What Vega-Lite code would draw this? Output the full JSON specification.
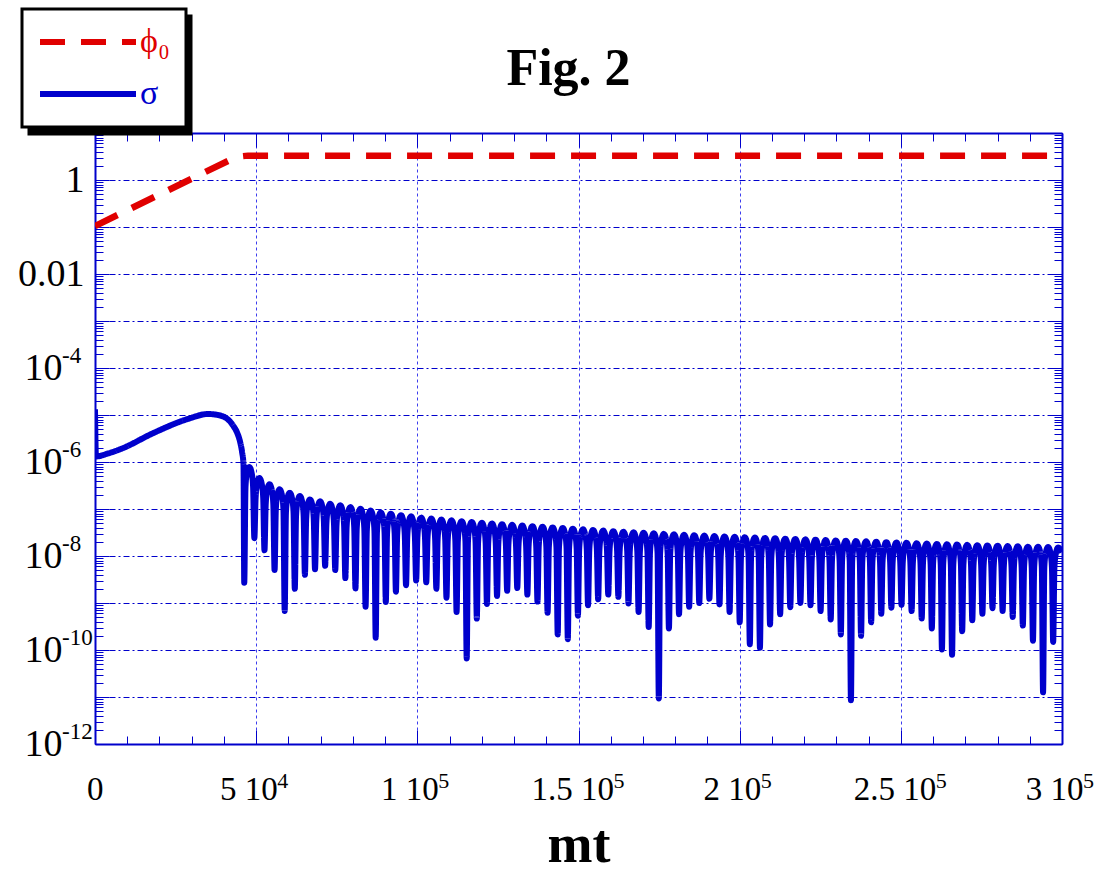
{
  "$schema": "https://vega.github.io/schema/vega-lite/v6.json",
  "autosize": {"type": "none"},
  "padding": {"left": 95, "top": 133, "right": 41, "bottom": 129},
  "width": 967,
  "height": 611,
  "background": "white",
  "config": {"view": {"stroke": null}, "font": "Liberation Serif"},
  "title": {"text": "Fig. 2", "font": "Liberation Serif", "fontSize": 52, "fontWeight": "bold", "color": "black", "anchor": "middle", "dx": -10, "offset": -129, "baseline": "alphabetic"},
  "datasets": {
    "phi": [
      {"t": 0, "v": 0.105}, {"t": 42503, "v": 2.8}, {"t": 44985, "v": 3.17}, {"t": 47467, "v": 3.3}, {"t": 300000, "v": 3.3}
    ],
    "sigma": [
      {"t":0,"v":1.32e-5},{"t":310,"v":1.31e-6},{"t":4033,"v":1.52e-6},{"t":8066,"v":1.90e-6},{"t":18521,"v":4.26e-6},{"t":28852,"v":8.26e-6},{"t":35057,"v":1.05e-5},{"t":38160,"v":1.0e-5},{"t":41262,"v":8.05e-6},{"t":42813,"v":6.0e-6},{"t":44054,"v":4.26e-6},{"t":44985,"v":2.74e-6},{"t":45605,"v":1.67e-6},{"t":46071,"v":8.85e-7},
      {"t":46300,"v":2.69e-9},{"t":46692,"v":2.98e-7},{"t":47084,"v":5.56e-7},{"t":47868,"v":7.83e-7},{"t":48653,"v":5.56e-7},{"t":49045,"v":2.98e-7},
      {"t":49437,"v":2.40e-8},{"t":49829,"v":1.73e-7},{"t":50221,"v":3.24e-7},{"t":51005,"v":4.56e-7},{"t":51790,"v":3.24e-7},{"t":52182,"v":1.73e-7},
      {"t":52574,"v":1.32e-8},{"t":52966,"v":1.27e-7},{"t":53358,"v":2.38e-7},{"t":54142,"v":3.35e-7},{"t":54927,"v":2.38e-7},{"t":55319,"v":1.27e-7},
      {"t":55711,"v":5.01e-9},{"t":56103,"v":9.96e-8},{"t":56495,"v":1.86e-7},{"t":57279,"v":2.62e-7},{"t":58064,"v":1.86e-7},{"t":58456,"v":9.96e-8},
      {"t":58848,"v":6.76e-10},{"t":59240,"v":8.44e-8},{"t":59632,"v":1.58e-7},{"t":60416,"v":2.22e-7},{"t":61201,"v":1.58e-7},{"t":61593,"v":8.44e-8},
      {"t":61985,"v":2.00e-9},{"t":62377,"v":7.18e-8},{"t":62769,"v":1.34e-7},{"t":63553,"v":1.89e-7},{"t":64338,"v":1.34e-7},{"t":64730,"v":7.18e-8},
      {"t":65122,"v":3.98e-9},{"t":65514,"v":6.08e-8},{"t":65906,"v":1.14e-7},{"t":66690,"v":1.60e-7},{"t":67475,"v":1.14e-7},{"t":67867,"v":6.08e-8},
      {"t":68259,"v":5.25e-9},{"t":68651,"v":5.55e-8},{"t":69043,"v":1.04e-7},{"t":69827,"v":1.46e-7},{"t":70612,"v":1.04e-7},{"t":71004,"v":5.55e-8},
      {"t":71396,"v":6.17e-9},{"t":71788,"v":4.90e-8},{"t":72180,"v":9.16e-8},{"t":72964,"v":1.29e-7},{"t":73749,"v":9.16e-8},{"t":74141,"v":4.90e-8},
      {"t":74533,"v":5.01e-9},{"t":74925,"v":4.56e-8},{"t":75317,"v":8.52e-8},{"t":76101,"v":1.20e-7},{"t":76886,"v":8.52e-8},{"t":77278,"v":4.56e-8},
      {"t":77670,"v":3.39e-9},{"t":78062,"v":4.18e-8},{"t":78454,"v":7.81e-8},{"t":79238,"v":1.10e-7},{"t":80023,"v":7.81e-8},{"t":80415,"v":4.18e-8},
      {"t":80807,"v":2.04e-9},{"t":81199,"v":3.84e-8},{"t":81591,"v":7.17e-8},{"t":82375,"v":1.01e-7},{"t":83160,"v":7.17e-8},{"t":83552,"v":3.84e-8},
      {"t":83944,"v":8.32e-10},{"t":84336,"v":3.52e-8},{"t":84728,"v":6.58e-8},{"t":85512,"v":9.27e-8},{"t":86297,"v":6.58e-8},{"t":86689,"v":3.52e-8},
      {"t":87081,"v":1.82e-10},{"t":87473,"v":3.22e-8},{"t":87865,"v":6.01e-8},{"t":88649,"v":8.47e-8},{"t":89434,"v":6.01e-8},{"t":89826,"v":3.22e-8},
      {"t":90218,"v":1.05e-9},{"t":90610,"v":3.01e-8},{"t":91002,"v":5.63e-8},{"t":91786,"v":7.93e-8},{"t":92571,"v":5.63e-8},{"t":92963,"v":3.01e-8},
      {"t":93355,"v":1.74e-9},{"t":93747,"v":2.81e-8},{"t":94139,"v":5.25e-8},{"t":94923,"v":7.40e-8},{"t":95708,"v":5.25e-8},{"t":96100,"v":2.81e-8},
      {"t":96492,"v":2.40e-9},{"t":96884,"v":2.65e-8},{"t":97276,"v":4.95e-8},{"t":98060,"v":6.97e-8},{"t":98845,"v":4.95e-8},{"t":99237,"v":2.65e-8},
      {"t":99629,"v":3.02e-9},{"t":100021,"v":2.49e-8},{"t":100413,"v":4.66e-8},{"t":101197,"v":6.56e-8},{"t":101982,"v":4.66e-8},{"t":102374,"v":2.49e-8},
      {"t":102766,"v":2.75e-9},{"t":103158,"v":2.38e-8},{"t":103550,"v":4.44e-8},{"t":104334,"v":6.25e-8},{"t":105119,"v":4.44e-8},{"t":105511,"v":2.38e-8},
      {"t":105903,"v":2.00e-9},{"t":106295,"v":2.26e-8},{"t":106687,"v":4.23e-8},{"t":107471,"v":5.96e-8},{"t":108256,"v":4.23e-8},{"t":108648,"v":2.26e-8},
      {"t":109040,"v":1.29e-9},{"t":109432,"v":2.18e-8},{"t":109824,"v":4.07e-8},{"t":110608,"v":5.73e-8},{"t":111393,"v":4.07e-8},{"t":111785,"v":2.18e-8},
      {"t":112177,"v":6.46e-10},{"t":112569,"v":2.09e-8},{"t":112961,"v":3.91e-8},{"t":113745,"v":5.51e-8},{"t":114530,"v":3.91e-8},{"t":114922,"v":2.09e-8},
      {"t":115314,"v":6.61e-11},{"t":115706,"v":2.01e-8},{"t":116098,"v":3.76e-8},{"t":116882,"v":5.30e-8},{"t":117667,"v":3.76e-8},{"t":118059,"v":2.01e-8},
      {"t":118451,"v":4.68e-10},{"t":118843,"v":1.93e-8},{"t":119235,"v":3.61e-8},{"t":120019,"v":5.09e-8},{"t":120804,"v":3.61e-8},{"t":121196,"v":1.93e-8},
      {"t":121588,"v":9.55e-10},{"t":121980,"v":1.87e-8},{"t":122372,"v":3.50e-8},{"t":123156,"v":4.93e-8},{"t":123941,"v":3.50e-8},{"t":124333,"v":1.87e-8},
      {"t":124725,"v":1.41e-9},{"t":125117,"v":1.80e-8},{"t":125509,"v":3.37e-8},{"t":126293,"v":4.74e-8},{"t":127078,"v":3.37e-8},{"t":127470,"v":1.80e-8},
      {"t":127862,"v":1.82e-9},{"t":128254,"v":1.75e-8},{"t":128646,"v":3.27e-8},{"t":129430,"v":4.60e-8},{"t":130215,"v":3.27e-8},{"t":130607,"v":1.75e-8},
      {"t":130999,"v":2.09e-9},{"t":131391,"v":1.69e-8},{"t":131783,"v":3.16e-8},{"t":132567,"v":4.45e-8},{"t":133352,"v":3.16e-8},{"t":133744,"v":1.69e-8},
      {"t":134136,"v":1.51e-9},{"t":134528,"v":1.64e-8},{"t":134920,"v":3.07e-8},{"t":135704,"v":4.32e-8},{"t":136489,"v":3.07e-8},{"t":136881,"v":1.64e-8},
      {"t":137273,"v":1.07e-9},{"t":137665,"v":1.60e-8},{"t":138057,"v":2.98e-8},{"t":138841,"v":4.20e-8},{"t":139626,"v":2.98e-8},{"t":140018,"v":1.60e-8},
      {"t":140410,"v":6.17e-10},{"t":140802,"v":1.54e-8},{"t":141194,"v":2.88e-8},{"t":141978,"v":4.06e-8},{"t":142763,"v":2.88e-8},{"t":143155,"v":1.54e-8},
      {"t":143547,"v":2.14e-10},{"t":143939,"v":1.50e-8},{"t":144331,"v":2.80e-8},{"t":145115,"v":3.94e-8},{"t":145900,"v":2.80e-8},{"t":146292,"v":1.50e-8},
      {"t":146684,"v":1.70e-10},{"t":147076,"v":1.45e-8},{"t":147468,"v":2.71e-8},{"t":148252,"v":3.82e-8},{"t":149037,"v":2.71e-8},{"t":149429,"v":1.45e-8},
      {"t":149821,"v":5.37e-10},{"t":150213,"v":1.41e-8},{"t":150605,"v":2.63e-8},{"t":151389,"v":3.70e-8},{"t":152174,"v":2.63e-8},{"t":152566,"v":1.41e-8},
      {"t":152958,"v":8.91e-10},{"t":153350,"v":1.36e-8},{"t":153742,"v":2.54e-8},{"t":154526,"v":3.58e-8},{"t":155311,"v":2.54e-8},{"t":155703,"v":1.36e-8},
      {"t":156095,"v":1.20e-9},{"t":156487,"v":1.32e-8},{"t":156879,"v":2.47e-8},{"t":157663,"v":3.48e-8},{"t":158448,"v":2.47e-8},{"t":158840,"v":1.32e-8},
      {"t":159232,"v":1.51e-9},{"t":159624,"v":1.28e-8},{"t":160016,"v":2.39e-8},{"t":160800,"v":3.37e-8},{"t":161585,"v":2.39e-8},{"t":161977,"v":1.28e-8},
      {"t":162369,"v":1.35e-9},{"t":162761,"v":1.25e-8},{"t":163153,"v":2.33e-8},{"t":163937,"v":3.28e-8},{"t":164722,"v":2.33e-8},{"t":165114,"v":1.25e-8},
      {"t":165506,"v":9.77e-10},{"t":165898,"v":1.22e-8},{"t":166290,"v":2.27e-8},{"t":167074,"v":3.20e-8},{"t":167859,"v":2.27e-8},{"t":168251,"v":1.22e-8},
      {"t":168643,"v":6.46e-10},{"t":169035,"v":1.19e-8},{"t":169427,"v":2.22e-8},{"t":170211,"v":3.12e-8},{"t":170996,"v":2.22e-8},{"t":171388,"v":1.19e-8},
      {"t":171780,"v":3.09e-10},{"t":172172,"v":1.16e-8},{"t":172564,"v":2.16e-8},{"t":173348,"v":3.04e-8},{"t":174133,"v":2.16e-8},{"t":174525,"v":1.16e-8},
      {"t":174917,"v":9.33e-12},{"t":175309,"v":1.12e-8},{"t":175701,"v":2.10e-8},{"t":176485,"v":2.96e-8},{"t":177270,"v":2.10e-8},{"t":177662,"v":1.12e-8},
      {"t":178054,"v":2.88e-10},{"t":178446,"v":1.10e-8},{"t":178838,"v":2.06e-8},{"t":179622,"v":2.90e-8},{"t":180407,"v":2.06e-8},{"t":180799,"v":1.10e-8},
      {"t":181191,"v":5.75e-10},{"t":181583,"v":1.08e-8},{"t":181975,"v":2.01e-8},{"t":182759,"v":2.83e-8},{"t":183544,"v":2.01e-8},{"t":183936,"v":1.08e-8},
      {"t":184328,"v":8.32e-10},{"t":184720,"v":1.05e-8},{"t":185112,"v":1.97e-8},{"t":185896,"v":2.77e-8},{"t":186681,"v":1.97e-8},{"t":187073,"v":1.05e-8},
      {"t":187465,"v":1.00e-9},{"t":187857,"v":1.03e-8},{"t":188249,"v":1.93e-8},{"t":189033,"v":2.72e-8},{"t":189818,"v":1.93e-8},{"t":190210,"v":1.03e-8},
      {"t":190602,"v":1.23e-9},{"t":190994,"v":1.01e-8},{"t":191386,"v":1.90e-8},{"t":192170,"v":2.67e-8},{"t":192955,"v":1.90e-8},{"t":193347,"v":1.01e-8},
      {"t":193739,"v":9.33e-10},{"t":194131,"v":9.92e-9},{"t":194523,"v":1.85e-8},{"t":195307,"v":2.61e-8},{"t":196092,"v":1.85e-8},{"t":196484,"v":9.92e-9},
      {"t":196876,"v":6.46e-10},{"t":197268,"v":9.73e-9},{"t":197660,"v":1.82e-8},{"t":198444,"v":2.56e-8},{"t":199229,"v":1.82e-8},{"t":199621,"v":9.73e-9},
      {"t":200013,"v":3.89e-10},{"t":200405,"v":9.54e-9},{"t":200797,"v":1.78e-8},{"t":201581,"v":2.51e-8},{"t":202366,"v":1.78e-8},{"t":202758,"v":9.54e-9},
      {"t":203150,"v":1.32e-10},{"t":203542,"v":9.39e-9},{"t":203934,"v":1.75e-8},{"t":204718,"v":2.47e-8},{"t":205503,"v":1.75e-8},{"t":205895,"v":9.39e-9},
      {"t":206287,"v":1.12e-10},{"t":206679,"v":9.23e-9},{"t":207071,"v":1.73e-8},{"t":207855,"v":2.43e-8},{"t":208640,"v":1.73e-8},{"t":209032,"v":9.23e-9},
      {"t":209424,"v":3.47e-10},{"t":209816,"v":9.08e-9},{"t":210208,"v":1.70e-8},{"t":210992,"v":2.39e-8},{"t":211777,"v":1.70e-8},{"t":212169,"v":9.08e-9},
      {"t":212561,"v":5.75e-10},{"t":212953,"v":8.89e-9},{"t":213345,"v":1.66e-8},{"t":214129,"v":2.34e-8},{"t":214914,"v":1.66e-8},{"t":215306,"v":8.89e-9},
      {"t":215698,"v":8.13e-10},{"t":216090,"v":8.78e-9},{"t":216482,"v":1.64e-8},{"t":217266,"v":2.31e-8},{"t":218051,"v":1.64e-8},{"t":218443,"v":8.78e-9},
      {"t":218835,"v":1.00e-9},{"t":219227,"v":8.59e-9},{"t":219619,"v":1.60e-8},{"t":220403,"v":2.26e-8},{"t":221188,"v":1.60e-8},{"t":221580,"v":8.59e-9},
      {"t":221972,"v":8.91e-10},{"t":222364,"v":8.47e-9},{"t":222756,"v":1.58e-8},{"t":223540,"v":2.23e-8},{"t":224325,"v":1.58e-8},{"t":224717,"v":8.47e-9},
      {"t":225109,"v":6.76e-10},{"t":225501,"v":8.32e-9},{"t":225893,"v":1.55e-8},{"t":226677,"v":2.19e-8},{"t":227462,"v":1.55e-8},{"t":227854,"v":8.32e-9},
      {"t":228246,"v":4.47e-10},{"t":228638,"v":8.17e-9},{"t":229030,"v":1.53e-8},{"t":229814,"v":2.15e-8},{"t":230599,"v":1.53e-8},{"t":230991,"v":8.17e-9},
      {"t":231383,"v":2.14e-10},{"t":231775,"v":8.06e-9},{"t":232167,"v":1.51e-8},{"t":232951,"v":2.12e-8},{"t":233736,"v":1.51e-8},{"t":234128,"v":8.06e-9},
      {"t":234520,"v":8.51e-12},{"t":234912,"v":7.90e-9},{"t":235304,"v":1.48e-8},{"t":236088,"v":2.08e-8},{"t":236873,"v":1.48e-8},{"t":237265,"v":7.90e-9},
      {"t":237657,"v":2.00e-10},{"t":238049,"v":7.79e-9},{"t":238441,"v":1.46e-8},{"t":239225,"v":2.05e-8},{"t":240010,"v":1.46e-8},{"t":240402,"v":7.79e-9},
      {"t":240794,"v":3.89e-10},{"t":241186,"v":7.64e-9},{"t":241578,"v":1.43e-8},{"t":242362,"v":2.01e-8},{"t":243147,"v":1.43e-8},{"t":243539,"v":7.64e-9},
      {"t":243931,"v":5.89e-10},{"t":244323,"v":7.49e-9},{"t":244715,"v":1.40e-8},{"t":245499,"v":1.97e-8},{"t":246284,"v":1.40e-8},{"t":246676,"v":7.49e-9},
      {"t":247068,"v":7.94e-10},{"t":247460,"v":7.37e-9},{"t":247852,"v":1.38e-8},{"t":248636,"v":1.94e-8},{"t":249421,"v":1.38e-8},{"t":249813,"v":7.37e-9},
      {"t":250205,"v":9.12e-10},{"t":250597,"v":7.26e-9},{"t":250989,"v":1.36e-8},{"t":251773,"v":1.91e-8},{"t":252558,"v":1.36e-8},{"t":252950,"v":7.26e-9},
      {"t":253342,"v":6.76e-10},{"t":253734,"v":7.11e-9},{"t":254126,"v":1.33e-8},{"t":254910,"v":1.87e-8},{"t":255695,"v":1.33e-8},{"t":256087,"v":7.11e-9},
      {"t":256479,"v":4.68e-10},{"t":256871,"v":6.99e-9},{"t":257263,"v":1.31e-8},{"t":258047,"v":1.84e-8},{"t":258832,"v":1.31e-8},{"t":259224,"v":6.99e-9},
      {"t":259616,"v":2.88e-10},{"t":260008,"v":6.88e-9},{"t":260400,"v":1.29e-8},{"t":261184,"v":1.81e-8},{"t":261969,"v":1.29e-8},{"t":262361,"v":6.88e-9},
      {"t":262753,"v":1.02e-10},{"t":263145,"v":6.76e-9},{"t":263537,"v":1.26e-8},{"t":264321,"v":1.78e-8},{"t":265106,"v":1.26e-8},{"t":265498,"v":6.76e-9},
      {"t":265890,"v":7.94e-11},{"t":266282,"v":6.69e-9},{"t":266674,"v":1.25e-8},{"t":267458,"v":1.76e-8},{"t":268243,"v":1.25e-8},{"t":268635,"v":6.69e-9},
      {"t":269027,"v":2.51e-10},{"t":269419,"v":6.57e-9},{"t":269811,"v":1.23e-8},{"t":270595,"v":1.73e-8},{"t":271380,"v":1.23e-8},{"t":271772,"v":6.57e-9},
      {"t":272164,"v":4.27e-10},{"t":272556,"v":6.46e-9},{"t":272948,"v":1.21e-8},{"t":273732,"v":1.70e-8},{"t":274517,"v":1.21e-8},{"t":274909,"v":6.46e-9},
      {"t":275301,"v":5.89e-10},{"t":275693,"v":6.38e-9},{"t":276085,"v":1.19e-8},{"t":276869,"v":1.68e-8},{"t":277654,"v":1.19e-8},{"t":278046,"v":6.38e-9},
      {"t":278438,"v":7.76e-10},{"t":278830,"v":6.31e-9},{"t":279222,"v":1.18e-8},{"t":280006,"v":1.66e-8},{"t":280791,"v":1.18e-8},{"t":281183,"v":6.31e-9},
      {"t":281575,"v":6.76e-10},{"t":281967,"v":6.19e-9},{"t":282359,"v":1.16e-8},{"t":283143,"v":1.63e-8},{"t":283928,"v":1.16e-8},{"t":284320,"v":6.19e-9},
      {"t":284712,"v":5.01e-10},{"t":285104,"v":6.12e-9},{"t":285496,"v":1.14e-8},{"t":286280,"v":1.61e-8},{"t":287065,"v":1.14e-8},{"t":287457,"v":6.12e-9},
      {"t":287849,"v":3.31e-10},{"t":288241,"v":6.00e-9},{"t":288633,"v":1.12e-8},{"t":289417,"v":1.58e-8},{"t":290202,"v":1.12e-8},{"t":290594,"v":6.00e-9},
      {"t":290986,"v":1.58e-10},{"t":291378,"v":5.97e-9},{"t":291770,"v":1.11e-8},{"t":292554,"v":1.57e-8},{"t":293339,"v":1.11e-8},{"t":293731,"v":5.97e-9},
      {"t":294123,"v":1.26e-11},{"t":294515,"v":5.89e-9},{"t":294907,"v":1.10e-8},{"t":295691,"v":1.55e-8},{"t":296476,"v":1.10e-8},{"t":296868,"v":5.89e-9},
      {"t":297260,"v":1.48e-10},{"t":297652,"v":5.78e-9},{"t":298044,"v":1.08e-8},{"t":298828,"v":1.52e-8},{"t":300000,"v":1.2e-8}
    ],
    "yexp": [
      {"v": 1e-4, "e": "-4"}, {"v": 1e-6, "e": "-6"}, {"v": 1e-8, "e": "-8"}, {"v": 1e-10, "e": "-10"}, {"v": 1e-12, "e": "-12"}
    ],
    "xexp": [
      {"t": 50000, "e": "4"}, {"t": 100000, "e": "5"}, {"t": 150000, "e": "5"}, {"t": 200000, "e": "5"}, {"t": 250000, "e": "5"}, {"t": 300000, "e": "5"}
    ]
  },
  "layer": [
    {
      "data": {"name": "phi"},
      "mark": {"type": "line", "strokeWidth": 6.5, "clip": true},
      "encoding": {
        "x": {"field": "t", "type": "quantitative", "scale": {"domain": [0, 300000], "nice": false},
          "axis": {"orient": "bottom",
            "values": [0,10000,20000,30000,40000,50000,60000,70000,80000,90000,100000,110000,120000,130000,140000,150000,160000,170000,180000,190000,200000,210000,220000,230000,240000,250000,260000,270000,280000,290000,300000],
            "labelExpr": "datum.value == 0 ? '0' : datum.value % 50000 == 0 ? (datum.value == 50000 ? '5' : '' + (datum.value / 100000)) + ' 10' : ''",
            "labelAlign": "right",
            "labelOffset": {"condition": [{"test": "datum.value == 0", "value": 8}, {"test": "datum.value == 150000 || datum.value == 250000", "value": 35}], "value": 21},
            "grid": true, "gridColor": "#3d3dee", "gridDash": [3, 3], "gridWidth": 1,
            "gridOpacity": {"condition": {"test": "datum.value % 50000 == 0", "value": 1}, "value": 0},
            "domainColor": "#0000cc", "domainWidth": 2,
            "tickColor": "#0000cc", "tickWidth": 1,
            "tickSize": {"condition": {"test": "datum.value % 50000 == 0", "value": -14}, "value": -8},
            "labelFont": "Liberation Serif", "labelFontSize": 33, "labelColor": "black", "labelPadding": 43,
            "labelOverlap": false, "labelFlush": false, "labelBound": false,
            "title": "mt", "titleFont": "Liberation Serif", "titleFontSize": 54, "titleFontWeight": "bold", "titleColor": "black", "titlePadding": 6}},
        "y": {"field": "v", "type": "quantitative", "scale": {"type": "log", "domain": [1e-12, 10], "nice": false},
          "axis": {"orient": "left",
            "values": [1e-12,2e-12,3e-12,4e-12,5e-12,6e-12,7e-12,8e-12,9e-12,1e-11,2e-11,3e-11,4e-11,5e-11,6e-11,7e-11,8e-11,9e-11,1e-10,2e-10,3e-10,4e-10,5e-10,6e-10,7e-10,8e-10,9e-10,1e-9,2e-9,3e-9,4e-9,5e-9,6e-9,7e-9,8e-9,9e-9,1e-8,2e-8,3e-8,4e-8,5e-8,6e-8,7e-8,8e-8,9e-8,1e-7,2e-7,3e-7,4e-7,5e-7,6e-7,7e-7,8e-7,9e-7,1e-6,2e-6,3e-6,4e-6,5e-6,6e-6,7e-6,8e-6,9e-6,1e-5,2e-5,3e-5,4e-5,5e-5,6e-5,7e-5,8e-5,9e-5,1e-4,2e-4,3e-4,4e-4,5e-4,6e-4,7e-4,8e-4,9e-4,0.001,0.002,0.003,0.004,0.005,0.006,0.007,0.008,0.009,0.01,0.02,0.03,0.04,0.05,0.06,0.07,0.08,0.09,0.1,0.2,0.3,0.4,0.5,0.6,0.7,0.8,0.9,1,2,3,4,5,6,7,8,9,10],
            "labelExpr": "abs(log(datum.value)/LN10 - round(log(datum.value)/LN10)) > 0.01 || round(log(datum.value)/LN10) % 2 != 0 ? '' : round(log(datum.value)/LN10) == 0 ? '1' : round(log(datum.value)/LN10) == -2 ? '0.01' : '10'",
            "labelPadding": {"condition": {"test": "round(log(datum.value)/LN10) <= -4", "value": 47}, "value": 25},
            "grid": true, "gridColor": "#0000cc", "gridDash": [6, 3, 2, 3], "gridWidth": 1,
            "gridOpacity": {"condition": {"test": "abs(log(datum.value)/LN10 - round(log(datum.value)/LN10)) < 0.01", "value": 1}, "value": 0},
            "domainColor": "#0000cc", "domainWidth": 2,
            "tickColor": "#0000cc", "tickWidth": 1,
            "tickSize": {"condition": {"test": "abs(log(datum.value)/LN10 - round(log(datum.value)/LN10)) < 0.01", "value": -14}, "value": -8},
            "labelFont": "Liberation Serif", "labelFontSize": 38, "labelColor": "black",
            "labelOverlap": false, "labelFlush": false, "labelBound": false,
            "title": null}},
        "color": {"datum": "ϕ₀", "type": "nominal",
          "scale": {"domain": ["ϕ₀", "σ"], "range": ["#e00000", "#0000cc"]},
          "legend": {"orient": "none", "legendX": -73, "legendY": -124, "title": null, "zindex": 2,
            "fillColor": "white", "strokeColor": "black", "padding": 16,
            "symbolType": "M-4,0H4", "symbolSize": 576, "symbolStrokeWidth": 6, "symbolOffset": 33,
            "labelFont": "Liberation Serif", "labelFontSize": 34, "labelOffset": 35, "rowPadding": 18,
            "encode": {"legend": {"update": {"strokeWidth": {"value": 3}}},
                       "labels": {"update": {"fill": {"scale": "color", "field": "value"}}}}}},
        "strokeDash": {"datum": "ϕ₀", "type": "nominal",
          "scale": {"domain": ["ϕ₀", "σ"], "range": [[25, 16], [1, 0]]}},
        "opacity": {"datum": "ϕ₀", "type": "nominal",
          "scale": {"domain": ["σ", "ϕ₀"], "range": [1, 1]},
          "legend": {"orient": "none", "legendX": -66, "legendY": -117, "title": null, "zindex": 1,
            "fillColor": "black", "strokeColor": "black", "padding": 16,
            "symbolType": "M-4,0H4", "symbolSize": 576, "symbolStrokeWidth": 6, "symbolOffset": 33,
            "symbolStrokeColor": "black", "symbolFillColor": "black",
            "labelExpr": "''",
            "labelFont": "Liberation Serif", "labelFontSize": 34, "labelOffset": 63, "rowPadding": 18, "labelColor": "black",
            "encode": {"legend": {"update": {"strokeWidth": {"value": 3}}}}}}
      }
    },
    {
      "data": {"name": "sigma"},
      "mark": {"type": "line", "strokeWidth": 6, "clip": true, "interpolate": "monotone"},
      "encoding": {
        "x": {"field": "t", "type": "quantitative",
          "axis": {"orient": "top",
            "values": [0,10000,20000,30000,40000,50000,60000,70000,80000,90000,100000,110000,120000,130000,140000,150000,160000,170000,180000,190000,200000,210000,220000,230000,240000,250000,260000,270000,280000,290000,300000],
            "labels": false, "grid": false, "title": null,
            "domainColor": "#0000cc", "domainWidth": 2, "tickColor": "#0000cc", "tickWidth": 1,
            "tickSize": {"condition": {"test": "datum.value % 50000 == 0", "value": -14}, "value": -8}}},
        "y": {"field": "v", "type": "quantitative",
          "axis": {"orient": "right",
            "values": [1e-12,2e-12,3e-12,4e-12,5e-12,6e-12,7e-12,8e-12,9e-12,1e-11,2e-11,3e-11,4e-11,5e-11,6e-11,7e-11,8e-11,9e-11,1e-10,2e-10,3e-10,4e-10,5e-10,6e-10,7e-10,8e-10,9e-10,1e-9,2e-9,3e-9,4e-9,5e-9,6e-9,7e-9,8e-9,9e-9,1e-8,2e-8,3e-8,4e-8,5e-8,6e-8,7e-8,8e-8,9e-8,1e-7,2e-7,3e-7,4e-7,5e-7,6e-7,7e-7,8e-7,9e-7,1e-6,2e-6,3e-6,4e-6,5e-6,6e-6,7e-6,8e-6,9e-6,1e-5,2e-5,3e-5,4e-5,5e-5,6e-5,7e-5,8e-5,9e-5,1e-4,2e-4,3e-4,4e-4,5e-4,6e-4,7e-4,8e-4,9e-4,0.001,0.002,0.003,0.004,0.005,0.006,0.007,0.008,0.009,0.01,0.02,0.03,0.04,0.05,0.06,0.07,0.08,0.09,0.1,0.2,0.3,0.4,0.5,0.6,0.7,0.8,0.9,1,2,3,4,5,6,7,8,9,10],
            "labels": false, "grid": false, "title": null,
            "domainColor": "#0000cc", "domainWidth": 2, "tickColor": "#0000cc", "tickWidth": 1,
            "tickSize": {"condition": {"test": "abs(log(datum.value)/LN10 - round(log(datum.value)/LN10)) < 0.01", "value": -14}, "value": -8}}},
        "color": {"datum": "σ", "type": "nominal"},
        "strokeDash": {"datum": "σ", "type": "nominal"},
        "opacity": {"datum": "σ", "type": "nominal"}
      }
    },
    {
      "data": {"name": "yexp"},
      "mark": {"type": "text", "align": "left", "baseline": "middle", "dx": -33, "dy": -12, "font": "Liberation Serif", "fontSize": 23, "color": "black"},
      "encoding": {
        "x": {"datum": 0, "type": "quantitative", "axis": null},
        "y": {"field": "v", "type": "quantitative", "axis": null},
        "text": {"field": "e"}
      }
    },
    {
      "data": {"name": "xexp"},
      "transform": [{"filter": "datum.t != 150000 && datum.t != 250000"}],
      "mark": {"type": "text", "align": "left", "baseline": "middle", "dx": 21, "dy": 37, "font": "Liberation Serif", "fontSize": 22, "color": "black"},
      "encoding": {
        "x": {"field": "t", "type": "quantitative", "axis": null},
        "y": {"datum": 1e-12, "type": "quantitative", "axis": null},
        "text": {"field": "e"}
      }
    },
    {
      "data": {"name": "xexp"},
      "transform": [{"filter": "datum.t == 150000 || datum.t == 250000"}],
      "mark": {"type": "text", "align": "left", "baseline": "middle", "dx": 35, "dy": 37, "font": "Liberation Serif", "fontSize": 22, "color": "black"},
      "encoding": {
        "x": {"field": "t", "type": "quantitative", "axis": null},
        "y": {"datum": 1e-12, "type": "quantitative", "axis": null},
        "text": {"field": "e"}
      }
    }
  ]
}
